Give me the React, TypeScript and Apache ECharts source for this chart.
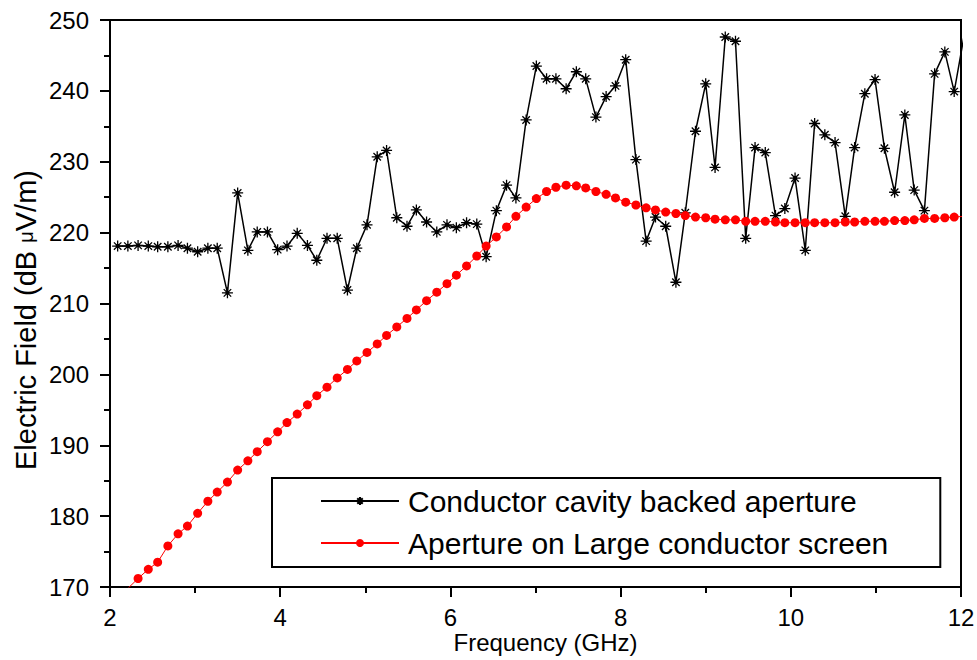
import React, { useEffect, useRef } from "react";
import * as echarts from "echarts";

// Frequency grid (GHz) shared by both series
const FREQ_GHZ = [
  2.09, 2.21, 2.33, 2.45, 2.56, 2.68, 2.80, 2.91, 3.03, 3.15,
  3.26, 3.38, 3.50, 3.62, 3.73, 3.85, 3.97, 4.08, 4.20, 4.32,
  4.43, 4.55, 4.67, 4.79, 4.90, 5.02, 5.14, 5.25, 5.37, 5.49,
  5.60, 5.72, 5.84, 5.96, 6.07, 6.19, 6.31, 6.42, 6.54, 6.66,
  6.77, 6.89, 7.01, 7.13, 7.24, 7.36, 7.48, 7.59, 7.71, 7.83,
  7.94, 8.06, 8.18, 8.30, 8.41, 8.53, 8.65, 8.76, 8.88, 9.00,
  9.11, 9.23, 9.35, 9.47, 9.58, 9.70, 9.82, 9.93, 10.05, 10.17,
  10.28, 10.40, 10.52, 10.64, 10.75, 10.87, 10.99, 11.10, 11.22, 11.34,
  11.45, 11.57, 11.69, 11.81, 11.92, 12.04,
];

// Conductor cavity backed aperture (dB µV/m), one value per FREQ_GHZ entry
const CAVITY_BACKED = [
  218.1, 218.1, 218.2, 218.1, 218.0, 218.0, 218.2, 217.8, 217.3, 217.8,
  217.8, 211.5, 225.6, 217.5, 220.1, 220.1, 217.6, 218.1, 219.9, 218.2,
  216.1, 219.2, 219.2, 211.9, 217.8, 221.1, 230.7, 231.6, 222.1, 220.9,
  223.2, 221.5, 220.1, 221.1, 220.7, 221.4, 221.2, 216.6, 223.1, 226.7,
  224.9, 235.9, 243.5, 241.7, 241.7, 240.3, 242.7, 241.7, 236.3, 239.2,
  240.7, 244.4, 230.3, 218.8, 222.2, 220.9, 213.0, 222.8, 234.3, 241.0,
  229.2, 247.6, 247.0, 219.2, 232.0, 231.3, 222.4, 223.4, 227.7, 217.5,
  235.4, 233.8, 232.7, 222.3, 232.0, 239.6, 241.6, 231.9, 225.7, 236.6,
  226.0, 223.1, 242.4, 245.5, 239.9, 248.0,
];

// Aperture on large conductor screen (dB µV/m), starts at FREQ_GHZ[1]
const LARGE_SCREEN = [
  169.8, 171.2, 172.5, 173.5, 175.8, 177.5, 178.6, 180.4, 182.1, 183.4,
  184.8, 186.5, 187.8, 189.1, 190.5, 191.9, 193.2, 194.4, 195.7, 197.0,
  198.2, 199.5, 200.7, 201.9, 203.1, 204.3, 205.5, 206.7, 207.9, 209.1,
  210.4, 211.6, 212.8, 214.0, 215.3, 216.7, 218.1, 219.4, 220.8, 222.3,
  223.6, 224.8, 225.8, 226.4, 226.7, 226.6, 226.3, 225.8, 225.4, 224.9,
  224.3, 223.9, 223.5, 223.2, 222.9, 222.7, 222.4, 222.2, 222.1, 221.9,
  221.8, 221.8, 221.6, 221.6, 221.6, 221.5, 221.4, 221.4, 221.4, 221.4,
  221.4, 221.4, 221.5, 221.5, 221.6, 221.6, 221.6, 221.7, 221.7, 221.8,
  222.0, 222.0, 222.1, 222.2, 222.3,
];

const SERIES_NAMES = [
  "Conductor cavity backed aperture",
  "Aperture on Large conductor screen",
];
const X_AXIS_NAME = "Frequency (GHz)";
const Y_AXIS_NAME = "Electric Field (dB {m|\u03bc}V/m)";

const FONT = "'Liberation Sans', Arial, sans-serif";
const ASTERISK =
  "path://M0 5L10 5M5 0L5 10M1.6 1.6L8.4 8.4M8.4 1.6L1.6 8.4M3.8 3.8L6.2 3.8L6.2 6.2L3.8 6.2Z";

const tickStyle = { color: "#000", width: 2 };

export default function App() {
  const ref = useRef<HTMLDivElement>(null);

  useEffect(() => {
    if (!ref.current) return;
    const chart = echarts.init(ref.current, null, { renderer: "svg" });

    const blackData = FREQ_GHZ.map((f, i) => [f, CAVITY_BACKED[i]]);
    const redData = FREQ_GHZ.slice(1).map((f, i) => [f, LARGE_SCREEN[i]]);

    const option: any = {
      animation: false,
      backgroundColor: "#fff",
      grid: {
        left: 110,
        right: 16,
        top: 20,
        bottom: 73,
        containLabel: false,
        outerBoundsMode: "none",
        show: true,
        borderColor: "#000",
        borderWidth: 2,
      },
      legend: {
        orient: "vertical",
        left: 272,
        top: 478,
        padding: [8, 52, 9, 48],
        itemGap: 12,
        itemWidth: 78,
        itemHeight: 10,
        selectedMode: false,
        borderColor: "#000",
        borderWidth: 2,
        backgroundColor: "#fff",
        textStyle: {
          fontFamily: FONT,
          fontSize: 30,
          lineHeight: 30,
          color: "#000",
          padding: [0, 0, 0, 4],
        },
        data: SERIES_NAMES,
      },
      xAxis: {
        type: "value",
        min: 2,
        max: 12,
        interval: 2,
        name: X_AXIS_NAME,
        nameLocation: "middle",
        nameGap: 43,
        nameMoveOverlap: false,
        nameTextStyle: { fontFamily: FONT, fontSize: 24, color: "#000", padding: [0, 0, 0, 20] },
        axisLine: { show: true, lineStyle: { color: "#000", width: 2 } },
        axisTick: { show: true, length: 10, lineStyle: tickStyle },
        minorTick: { show: true, splitNumber: 2, length: 6, lineStyle: tickStyle },
        axisLabel: { fontFamily: FONT, fontSize: 24, color: "#000", margin: 18 },
        splitLine: { show: false },
        minorSplitLine: { show: false },
      },
      yAxis: {
        type: "value",
        min: 170,
        max: 250,
        interval: 10,
        name: Y_AXIS_NAME,
        nameLocation: "middle",
        nameGap: 70,
        nameMoveOverlap: false,
        nameTextStyle: {
          fontFamily: FONT,
          fontSize: 29,
          color: "#000",
          padding: [0, 33, 0, 0],
          rich: { m: { fontFamily: FONT, fontSize: 20, color: "#000" } },
        },
        axisLine: { show: true, lineStyle: { color: "#000", width: 2 } },
        axisTick: { show: true, length: 10, lineStyle: tickStyle },
        minorTick: { show: true, splitNumber: 2, length: 6, lineStyle: tickStyle },
        axisLabel: { fontFamily: FONT, fontSize: 24, color: "#000", margin: 21 },
        splitLine: { show: false },
        minorSplitLine: { show: false },
      },
      series: [
        {
          name: SERIES_NAMES[0],
          type: "line",
          data: blackData,
          clip: true,
          symbol: ASTERISK,
          symbolSize: 11,
          showAllSymbol: true,
          lineStyle: { color: "#000", width: 1.5 },
          itemStyle: { color: "#000", borderColor: "#000", borderWidth: 1.3 },
          z: 2,
        },
        {
          name: SERIES_NAMES[1],
          type: "line",
          data: redData,
          clip: true,
          symbol: "circle",
          symbolSize: 9,
          showAllSymbol: true,
          lineStyle: { color: "#ff0000", width: 1 },
          itemStyle: { color: "#ff0000" },
          z: 3,
        },
      ],
    };

    chart.setOption(option);
    return () => chart.dispose();
  }, []);

  return (
    <div
      ref={ref}
      style={{ position: "fixed", left: 0, top: 0, width: 977, height: 660, background: "#fff" }}
    />
  );
}
